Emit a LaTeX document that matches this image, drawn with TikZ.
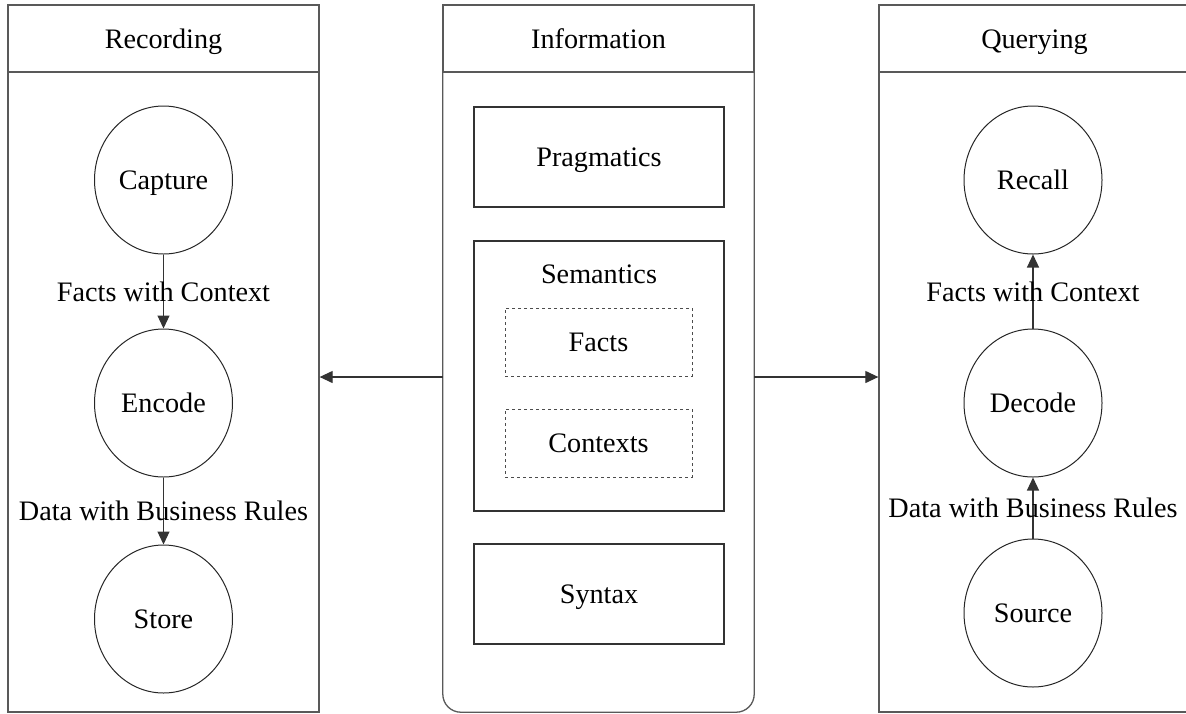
\documentclass[tikz,border=0pt]{standalone}
\usepackage{fontspec}
\setmainfont{Liberation Serif}
\usetikzlibrary{arrows.meta,calc,positioning,shapes.geometric}

\begin{document}
\begin{tikzpicture}[x=1pt, y=-1pt,
		every node/.style={font=\fontsize{28.2}{34}\selectfont, text height=19pt, text depth=0pt, inner sep=0pt},
		header/.style={draw=black!65, line width=1.3pt, minimum width=311pt, minimum height=67pt},
		panel/.style={draw=black!65, line width=1.3pt, minimum width=311pt, minimum height=640pt},
		stage/.style={ellipse, draw=black!85, line width=1pt, minimum width=138pt, minimum height=148pt},
		layer/.style={draw=black!80, line width=1.2pt, minimum width=250pt, minimum height=100pt},
		part/.style={draw=black!70, line width=1pt, dashed, minimum width=187pt, minimum height=68pt},
		flow/.style={draw=black!80, line width=1.2pt, -{Triangle[length=13pt, width=12pt]}}
		]
	\useasboundingbox (0,0) rectangle (1186,713);

	% --- Recording (gauche) ---
	\node[header] (rechead) at (163.5, 38.5) {Recording};
	\node[panel] (recbody) at (163.5, 392) {};
	\node[stage] (capture) at (163.5, 180) {Capture};
	\node[stage] (encode) at (163.5, 403) {Encode};
	\node[stage] (store) at (163.5, 619) {Store};

	\draw[flow] (capture) to node {Facts with Context} (encode);
	\draw[flow] (encode) to node {Data with Business Rules} (store);

	% --- Information (milieu) ---
	\node[header] (infohead) at (598.5, 38.5) {Information};
	\node[minimum width=311pt, minimum height=640pt] (info) at (598.5, 392) {};
	\draw[draw=black!65, line width=1.3pt, rounded corners=18pt]
		(info.north west) -- (info.south west) -- (info.south east) -- (info.north east);

	\node[layer] (prag) at (599, 157) {Pragmatics};
	\node[layer, minimum height=270pt] (sem) at (599, 376) {};
	\node (semlabel) at (599, 273.5) {Semantics};
	\node[part] (facts) at (598.5, 342) {Facts};
	\node[part] (ctx) at (598.5, 443) {Contexts};
	\node[layer] (syntax) at (599, 594) {Syntax};

	% --- Querying (droite) ---
	\node[header] (qryhead) at (1034.5, 38.5) {Querying};
	\node[panel] (qrybody) at (1034.5, 392) {};
	\node[stage] (recall) at (1033, 180) {Recall};
	\node[stage] (decode) at (1033, 403) {Decode};
	\node[stage] (source) at (1033, 613) {Source};

	\draw[flow] (source) to node {Data with Business Rules} (decode);
	\draw[flow] (decode) to node {Facts with Context} (recall);

	% --- liens entre panneaux ---
	\coordinate (mid) at (598.5, 377);
	\draw[flow] (info.west |- mid) -- (recbody.east |- mid);
	\draw[flow] (info.east |- mid) -- (qrybody.west |- mid);

\end{tikzpicture}
\end{document}
